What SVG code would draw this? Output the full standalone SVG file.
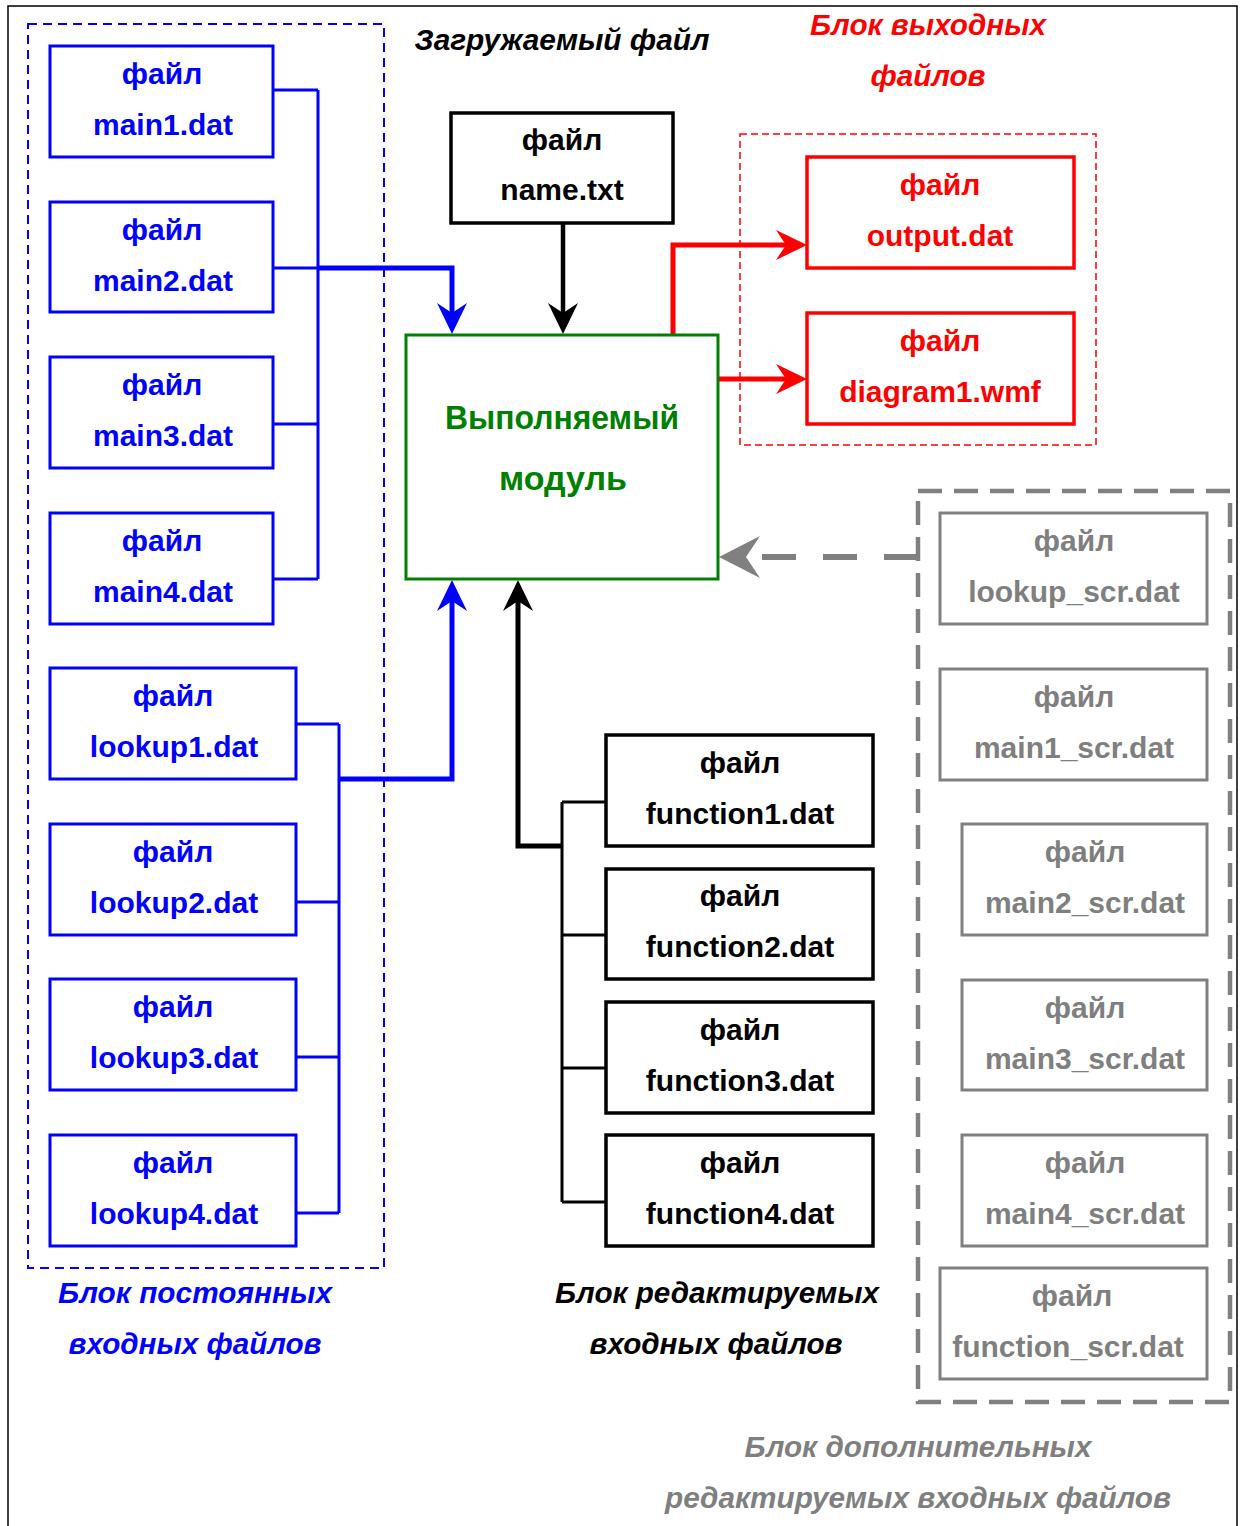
<svg xmlns="http://www.w3.org/2000/svg" width="1240" height="1526" viewBox="0 0 1240 1526">
<style>
text{font-family:"Liberation Sans",Arial,sans-serif;font-weight:bold;text-anchor:middle}
.t{font-size:30px}
.lab{font-size:29px;font-style:italic}
.bb{fill:#fff;stroke:#0000ff;stroke-width:3}
.kb{fill:#fff;stroke:#000;stroke-width:3.5}
.rb{fill:#fff;stroke:#ff0000;stroke-width:3.5}
.gb{fill:#fff;stroke:#808080;stroke-width:3}
.blue{fill:#0000ff}.black{fill:#000}.red{fill:#ff0000}.gray{fill:#7f7f7f}.green{fill:#008000}
.c{fill:none;stroke-linejoin:miter}
</style>
<defs>
<marker id="ab" markerUnits="userSpaceOnUse" viewBox="0 -16 32 32" refX="12" refY="0" markerWidth="32" markerHeight="32" orient="auto"><path d="M0,-15 L31,0 L0,15 L10,0 Z" fill="#0000ff"/></marker>
<marker id="ak" markerUnits="userSpaceOnUse" viewBox="0 -16 32 32" refX="12" refY="0" markerWidth="32" markerHeight="32" orient="auto"><path d="M0,-15 L31,0 L0,15 L10,0 Z" fill="#000"/></marker>
<marker id="ar" markerUnits="userSpaceOnUse" viewBox="0 -16 32 32" refX="12" refY="0" markerWidth="32" markerHeight="32" orient="auto"><path d="M0,-15 L31,0 L0,15 L10,0 Z" fill="#ff0000"/></marker>
<marker id="ag" markerUnits="userSpaceOnUse" viewBox="0 -22 42 44" refX="16" refY="0" markerWidth="42" markerHeight="44" orient="auto"><path d="M0,-21 L41,0 L0,21 L14,0 Z" fill="#808080"/></marker>
</defs>
<rect width="1240" height="1526" fill="#fff"/>
<path d="M8,1530 V6 H1237 V1530" fill="none" stroke="#000" stroke-width="1.5"/>

<g id="containers">
<rect x="28" y="24" width="356" height="1244" fill="none" stroke="#0000ff" stroke-width="2" stroke-dasharray="9,6"/>
<rect x="740" y="134" width="356" height="311" fill="none" stroke="#ff0000" stroke-width="1.5" stroke-dasharray="7,4"/>
<rect x="918" y="491" width="312" height="911" fill="none" stroke="#808080" stroke-width="4.5" stroke-dasharray="24,12"/>
</g>

<g id="connectors" class="c">
<path d="M273,90 H318 M273,268 H318 M273,424 H318 M273,579 H318 M318,90 V579" stroke="#0000ff" stroke-width="3"/>
<path d="M318,268 H452 V315" stroke="#0000ff" stroke-width="5" marker-end="url(#ab)"/>
<path d="M296,724 H339 M296,902 H339 M296,1057 H339 M296,1213 H339 M339,724 V1213" stroke="#0000ff" stroke-width="3"/>
<path d="M339,779 H452 V599" stroke="#0000ff" stroke-width="5" marker-end="url(#ab)"/>
<path d="M563,223 V315" stroke="#000" stroke-width="4.5" marker-end="url(#ak)"/>
<path d="M606,802 H562 M606,935 H562 M606,1068 H562 M606,1202 H562 M562,802 V1202" stroke="#000" stroke-width="3"/>
<path d="M562,846 H518 V599" stroke="#000" stroke-width="5" marker-end="url(#ak)"/>
<path d="M673,334 V245 H788" stroke="#ff0000" stroke-width="5" marker-end="url(#ar)"/>
<path d="M718,379 H788" stroke="#ff0000" stroke-width="5" marker-end="url(#ar)"/>
<path d="M918,557 H744" stroke="#808080" stroke-width="6" stroke-dasharray="34,27" marker-end="url(#ag)"/>
</g>

<g id="labels">
<text class="lab black" x="562" y="50" textLength="295" lengthAdjust="spacingAndGlyphs">Загружаемый файл</text>
<text class="lab red" x="928" y="35" textLength="236" lengthAdjust="spacingAndGlyphs">Блок выходных</text>
<text class="lab red" x="928" y="86" textLength="115" lengthAdjust="spacingAndGlyphs">файлов</text>
<text class="lab blue" x="195" y="1303" textLength="274" lengthAdjust="spacingAndGlyphs">Блок постоянных</text>
<text class="lab blue" x="195" y="1354" textLength="253" lengthAdjust="spacingAndGlyphs">входных файлов</text>
<text class="lab black" x="717" y="1303" textLength="324" lengthAdjust="spacingAndGlyphs">Блок редактируемых</text>
<text class="lab black" x="716" y="1354" textLength="253" lengthAdjust="spacingAndGlyphs">входных файлов</text>
<text class="lab gray" x="918" y="1457" textLength="347" lengthAdjust="spacingAndGlyphs">Блок дополнительных</text>
<text class="lab gray" x="918" y="1508" textLength="506" lengthAdjust="spacingAndGlyphs">редактируемых входных файлов</text>
</g>

<g id="main1"><rect class="bb" x="50" y="46" width="223" height="111"/><text class="t blue" x="162" y="84">файл</text><text class="t blue" x="163" y="135">main1.dat</text></g>
<g id="main2"><rect class="bb" x="50" y="202" width="223" height="110"/><text class="t blue" x="162" y="240">файл</text><text class="t blue" x="163" y="291">main2.dat</text></g>
<g id="main3"><rect class="bb" x="50" y="357" width="223" height="111"/><text class="t blue" x="162" y="395">файл</text><text class="t blue" x="163" y="446">main3.dat</text></g>
<g id="main4"><rect class="bb" x="50" y="513" width="223" height="111"/><text class="t blue" x="162" y="551">файл</text><text class="t blue" x="163" y="602">main4.dat</text></g>

<g id="lookup1"><rect class="bb" x="50" y="668" width="246" height="111"/><text class="t blue" x="173" y="706">файл</text><text class="t blue" x="174" y="757">lookup1.dat</text></g>
<g id="lookup2"><rect class="bb" x="50" y="824" width="246" height="111"/><text class="t blue" x="173" y="862">файл</text><text class="t blue" x="174" y="913">lookup2.dat</text></g>
<g id="lookup3"><rect class="bb" x="50" y="979" width="246" height="111"/><text class="t blue" x="173" y="1017">файл</text><text class="t blue" x="174" y="1068">lookup3.dat</text></g>
<g id="lookup4"><rect class="bb" x="50" y="1135" width="246" height="111"/><text class="t blue" x="173" y="1173">файл</text><text class="t blue" x="174" y="1224">lookup4.dat</text></g>

<g id="name_txt"><rect class="kb" x="451" y="113" width="222" height="110"/><text class="t black" x="562" y="150">файл</text><text class="t black" x="562" y="200">name.txt</text></g>

<g id="module"><rect x="406" y="335" width="312" height="244" fill="#fff" stroke="#008000" stroke-width="3"/><text class="green" x="562" y="429" font-size="34" textLength="234" lengthAdjust="spacingAndGlyphs">Выполняемый</text><text class="green" x="563" y="490" font-size="34">модуль</text></g>

<g id="output_dat"><rect class="rb" x="807" y="157" width="267" height="111"/><text class="t red" x="940" y="195">файл</text><text class="t red" x="940" y="246">output.dat</text></g>
<g id="diagram1_wmf"><rect class="rb" x="807" y="313" width="267" height="111"/><text class="t red" x="940" y="351">файл</text><text class="t red" x="940" y="402">diagram1.wmf</text></g>

<g id="function1"><rect class="kb" x="606" y="735" width="267" height="111"/><text class="t black" x="740" y="773">файл</text><text class="t black" x="740" y="824">function1.dat</text></g>
<g id="function2"><rect class="kb" x="606" y="869" width="267" height="110"/><text class="t black" x="740" y="906">файл</text><text class="t black" x="740" y="957">function2.dat</text></g>
<g id="function3"><rect class="kb" x="606" y="1002" width="267" height="111"/><text class="t black" x="740" y="1040">файл</text><text class="t black" x="740" y="1091">function3.dat</text></g>
<g id="function4"><rect class="kb" x="606" y="1135" width="267" height="111"/><text class="t black" x="740" y="1173">файл</text><text class="t black" x="740" y="1224">function4.dat</text></g>

<g id="lookup_scr"><rect class="gb" x="940" y="513" width="267" height="111"/><text class="t gray" x="1074" y="551">файл</text><text class="t gray" x="1074" y="602">lookup_scr.dat</text></g>
<g id="main1_scr"><rect class="gb" x="940" y="669" width="267" height="111"/><text class="t gray" x="1074" y="707">файл</text><text class="t gray" x="1074" y="758">main1_scr.dat</text></g>
<g id="main2_scr"><rect class="gb" x="962" y="824" width="245" height="111"/><text class="t gray" x="1085" y="862">файл</text><text class="t gray" x="1085" y="913">main2_scr.dat</text></g>
<g id="main3_scr"><rect class="gb" x="962" y="980" width="245" height="110"/><text class="t gray" x="1085" y="1018">файл</text><text class="t gray" x="1085" y="1069">main3_scr.dat</text></g>
<g id="main4_scr"><rect class="gb" x="962" y="1135" width="245" height="111"/><text class="t gray" x="1085" y="1173">файл</text><text class="t gray" x="1085" y="1224">main4_scr.dat</text></g>
<g id="function_scr"><rect class="gb" x="940" y="1268" width="267" height="111"/><text class="t gray" x="1072" y="1306">файл</text><text class="t gray" x="1068" y="1357">function_scr.dat</text></g>
</svg>
